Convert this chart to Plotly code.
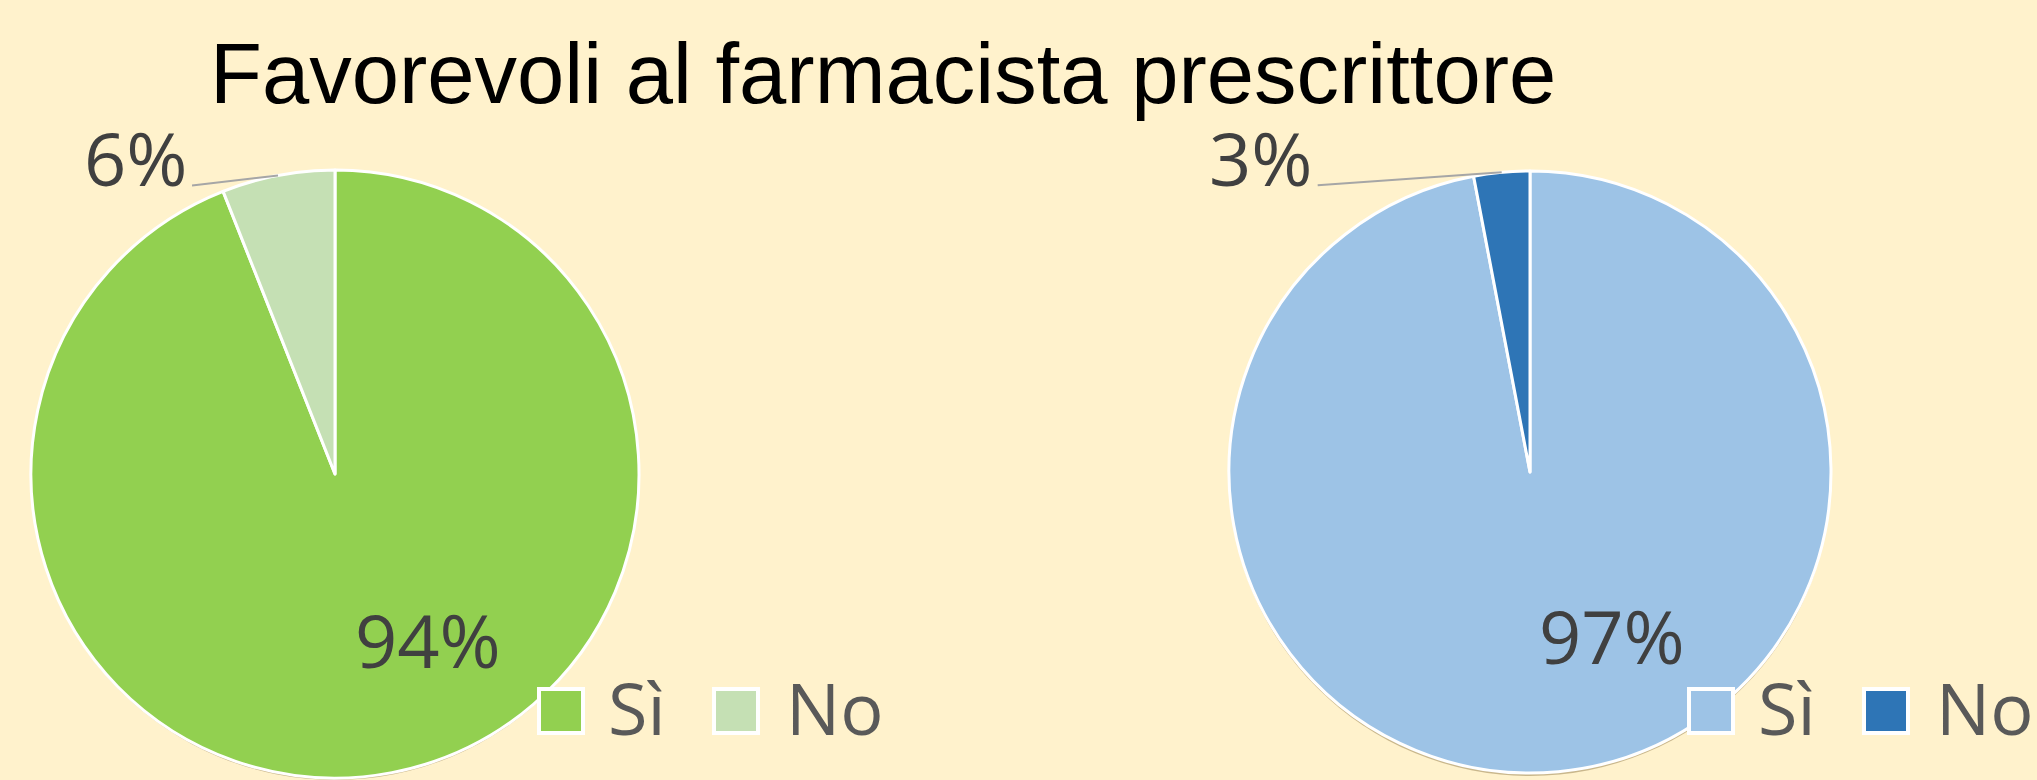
import math
import plotly.graph_objects as go

# ---------------- data ----------------
categories = ["Sì", "No"]
values_left = [94, 6]
values_right = [97, 3]
colors_left = ["#92D050", "#C5E0B4"]
colors_right = ["#9DC3E6", "#2E75B6"]
title_text = "Favorevoli al farmacista prescrittore"

# ---------------- layout constants (pixels) ----------------
W, H = 2037, 780
BG = "#FFF2CC"


def fx(x):
    return min(1.0, max(0.0, x / W))


def fy(y):
    return min(1.0, max(0.0, 1 - y / H))


pies = [
    dict(values=values_left, colors=colors_left, cx=335, cy=474, r=304,
         inside=(150.7, 0.626), out_off=(-143, -18), legend_x=537),
    dict(values=values_right, colors=colors_right, cx=1530, cy=472, r=301,
         inside=(153.4, 0.609), out_off=(-241, -15), legend_x=1687),
]

fig = go.Figure()
annotations = []
shapes = []

LABEL_FONT = dict(family="Open Sans, Lato, sans-serif", size=74, color="#404040")
LEGEND_FONT = dict(family="Open Sans, Lato, sans-serif", size=72, color="#595959")

for p in pies:
    cx, cy, r = p["cx"], p["cy"], p["r"]
    vals = p["values"]
    cols = p["colors"]

    # soft drop shadow beneath the pie
    fig.add_trace(go.Pie(
        values=[1], labels=["shadow"],
        marker=dict(colors=["rgba(120,95,45,0.40)"], line=dict(width=0)),
        domain=dict(x=[fx(cx - r), fx(cx + r)],
                    y=[fy(cy + 3 + r), fy(cy + 3 - r)]),
        textinfo="none", hoverinfo="skip", showlegend=False, sort=False,
    ))

    fig.add_trace(go.Pie(
        labels=categories, values=vals,
        marker=dict(colors=cols, line=dict(color="white", width=3)),
        domain=dict(x=[fx(cx - r), fx(cx + r)], y=[fy(cy + r), fy(cy - r)]),
        direction="clockwise", rotation=0, sort=False,
        textinfo="none", showlegend=False,
        hovertemplate="%{label}: %{value}%<extra></extra>",
    ))

    total = sum(vals)
    # angles of slices (clockwise from 12 o'clock)
    cum = 0
    mids = []
    for v in vals:
        a0 = cum / total * 360
        cum += v
        a1 = cum / total * 360
        mids.append((a0 + a1) / 2)

    # inside label for first (large) slice
    ang, frac = p["inside"]
    lx = cx + r * frac * math.sin(math.radians(ang))
    ly = cy - r * frac * math.cos(math.radians(ang))
    annotations.append(dict(
        text=f"{vals[0]}%", x=fx(lx), y=fy(ly), xref="paper", yref="paper",
        xanchor="center", yanchor="middle", showarrow=False, font=LABEL_FONT,
    ))

    # outside label for small slice with leader line
    m = math.radians(mids[1])
    ex = cx + r * math.sin(m)
    ey = cy - r * math.cos(m)
    ox, oy = p["out_off"]
    tx, ty = ex + ox, ey + oy
    annotations.append(dict(
        text=f"{vals[1]}%", x=fx(tx), y=fy(ty), xref="paper", yref="paper",
        xanchor="center", yanchor="middle", showarrow=False, font=LABEL_FONT,
    ))
    shapes.append(dict(
        type="line", xref="paper", yref="paper",
        x0=fx(tx + 57), y0=fy(ty + 28), x1=fx(ex), y1=fy(ey),
        line=dict(color="#A6A6A6", width=2),
    ))

    # custom legend
    lgx = p["legend_x"]
    sq_off = [0, 175]
    tx_off = [73, 251]
    for j, cat in enumerate(categories):
        sx = lgx + sq_off[j]
        shapes.append(dict(
            type="rect", xref="paper", yref="paper",
            x0=fx(sx + 2), x1=fx(sx + 46), y0=fy(733), y1=fy(689),
            fillcolor=cols[j], line=dict(color="white", width=4),
        ))
        annotations.append(dict(
            text=cat, x=fx(lgx + tx_off[j] - 4), y=fy(707), xref="paper", yref="paper",
            xanchor="left", yanchor="middle", showarrow=False, font=LEGEND_FONT,
        ))

# title
annotations.append(dict(
    text=title_text, x=fx(883), y=fy(73), xref="paper", yref="paper",
    xanchor="center", yanchor="middle", showarrow=False,
    font=dict(family="Liberation Sans, Arial, sans-serif", size=85, color="#000000"),
))

fig.update_layout(
    width=W, height=H, autosize=False,
    margin=dict(l=0, r=0, t=0, b=0, pad=0),
    paper_bgcolor=BG, plot_bgcolor=BG,
    showlegend=False,
    annotations=annotations,
    shapes=shapes,
)

fig.write_html(
    "out.html",
    config={"displayModeBar": False},
    post_script="document.body.style.margin='0';document.body.style.overflow='hidden';",
)
